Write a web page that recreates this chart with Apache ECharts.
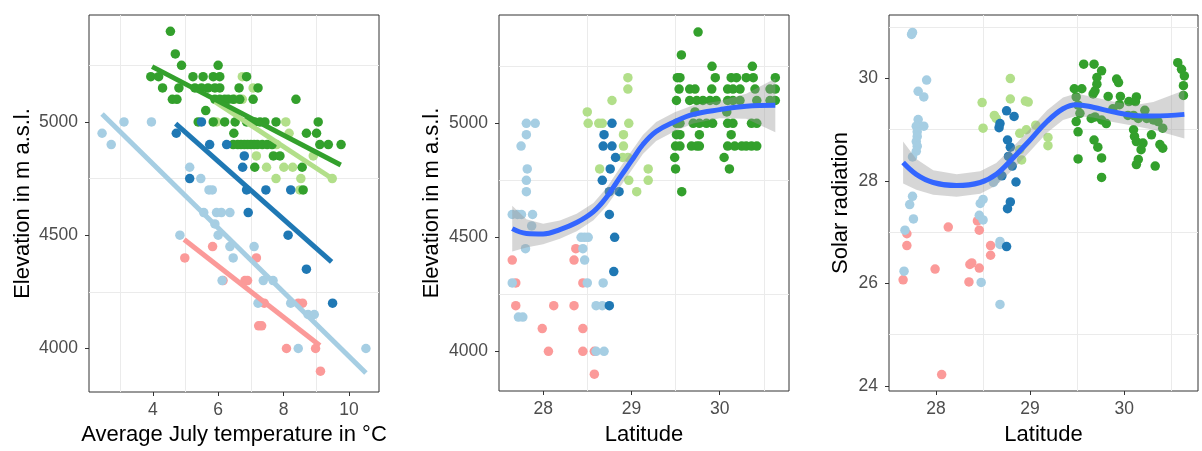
<!DOCTYPE html>
<html>
<head>
<meta charset="utf-8">
<script src="https://cdn.jsdelivr.net/npm/echarts@6/dist/echarts.min.js"></script>
<style>
  html, body { margin: 0; padding: 0; background: #fff; }
  #chart { width: 1202px; height: 451px; }
</style>
</head>
<body>
<div id="chart"></div>
<script>
// ---- panel 1: July temperature vs elevation ----
const tempPink = [[4.98,4400],[5.83,4450],[6.15,4300],[6.82,4300],[6.90,4300],[7.17,4400],[7.24,4100],[7.33,4100],[7.41,4200],[8.45,4200],[8.58,4200],[8.09,4000],[8.98,4000],[9.13,3900]];
const tempLightBlue = [[2.45,4950],[2.73,4900],[3.12,5000],[3.96,5000],[4.83,4500],[5.13,4800],[5.47,4750],[5.72,4700],[5.82,4700],[5.56,4600],[5.95,4600],[6.10,4600],[6.36,4600],[5.90,4550],[6.00,4500],[6.12,4300],[6.36,4450],[6.46,4400],[7.10,4450],[7.22,4200],[7.38,4300],[7.68,4300],[8.22,4200],[8.45,4000],[8.75,4150],[8.94,4150],[10.52,4000]];
const tempDarkBlue = [[4.72,4950],[5.49,5000],[5.13,4750],[5.74,4900],[6.26,4900],[6.80,4850],[6.75,4800],[6.87,4700],[7.46,4700],[8.22,4700],[6.92,4600],[8.14,4500],[8.70,4350],[9.50,4200]];
const tempLightGreen = [[5.95,5000],[6.74,5200],[7.07,5150],[6.51,5100],[6.74,5100],[8.07,5000],[8.17,4950],[7.79,4900],[7.17,4850],[8.91,4850],[7.48,4800],[8.01,4800],[8.28,4800],[7.77,4750],[8.53,4750],[9.49,4750],[8.50,4700]];
const tempGreen = [
  [4.54,5400],[4.69,5300],[4.88,5250],[6.00,5250],
  [3.94,5200],[4.18,5200],[5.23,5200],[5.54,5200],[5.85,5200],[6.05,5200],[6.87,5200],
  [4.30,5150],[4.80,5150],[5.29,5150],[5.49,5150],[5.69,5150],[5.90,5150],[6.05,5150],[6.64,5150],[7.22,5150],
  [4.60,5100],[4.74,5100],[5.90,5100],[6.05,5100],[6.20,5100],[6.31,5100],[6.46,5100],[6.66,5100],[7.07,5100],[8.38,5100],
  [5.62,5050],
  [5.39,5000],[5.85,5000],[6.20,5000],[6.52,5000],[6.87,5000],[7.00,5000],[7.12,5000],[7.28,5000],[7.43,5000],[7.77,5000],[9.06,5000],
  [6.48,4950],[8.70,4950],[9.01,4950],
  [6.46,4900],[6.60,4900],[6.70,4900],[6.80,4900],[6.90,4900],[7.00,4900],[7.10,4900],[7.20,4900],[7.35,4900],[7.50,4900],[7.65,4900],[9.11,4900],[9.37,4900],[9.76,4900],
  [7.69,4850],[7.89,4850],[7.12,4800],[8.57,4800],[8.60,4700]
];
// linear fits (start, end)
const fitPink = [[4.96,4481],[9.11,4013]];
const fitLightBlue = [[2.45,5035],[10.52,3892]];
const fitDarkBlue = [[4.70,4993],[9.47,4382]];
const fitLightGreen = [[5.90,5090],[9.52,4747]];
const fitGreen = [[3.98,5244],[9.75,4810]];

// ---- panel 2: latitude vs elevation ----
const latElevPink = [[27.65,4400],[27.69,4300],[27.69,4200],[27.99,4100],[28.06,4000],[28.12,4200],[28.37,4450],[28.35,4400],[28.35,4200],[28.45,4300],[28.45,4100],[28.45,4000],[28.58,4000],[28.58,3900]];
const latElevLightBlue = [[27.65,4600],[27.71,4600],[27.755,4600],[27.88,4600],[27.81,4950],[27.75,4900],[27.82,4800],[27.81,4750],[27.81,4700],[27.81,5000],[27.91,5000],[27.87,4550],[27.80,4450],[27.65,4300],[27.72,4150],[27.77,4150],[28.43,4500],[28.47,4500],[28.51,4500],[28.45,4450],[28.47,4400],[28.50,4300],[28.68,4300],[28.60,4200],[28.67,4200],[28.60,4000],[28.69,4000]];
const latElevDarkBlue = [[28.69,4950],[28.68,4900],[28.78,4900],[28.78,5000],[28.82,4850],[28.76,4800],[28.67,4750],[28.75,4700],[28.86,4700],[28.75,4600],[28.81,4500],[28.80,4350],[28.75,4200]];
const latElevLightGreen = [[28.50,5050],[28.51,5000],[28.63,5000],[28.67,5000],[28.78,5100],[28.96,5200],[28.96,5150],[28.97,5000],[28.91,4950],[28.91,4900],[28.90,4850],[28.96,4850],[28.64,4800],[29.19,4800],[29.19,4750],[28.97,4750],[29.06,4700]];
const latElevGreen = [
  [29.755,5400],[29.566,5300],[29.913,5250],[30.37,5250],
  [29.52,5200],[29.55,5200],[29.95,5200],[30.13,5200],[30.19,5200],[30.30,5200],[30.38,5200],[30.63,5200],
  [29.54,5150],[29.66,5150],[29.72,5150],[29.91,5150],[30.09,5150],[30.15,5150],[30.23,5150],[30.40,5150],[30.57,5150],[30.63,5150],
  [29.51,5100],[29.66,5100],[29.74,5100],[29.81,5100],[29.89,5100],[29.96,5100],[30.09,5100],[30.15,5100],[30.23,5100],[30.42,5100],[30.57,5100],[30.63,5100],
  [29.72,5050],[30.08,5050],
  [29.51,5000],[29.55,5000],[29.70,5000],[29.77,5000],[29.85,5000],[29.92,5000],[30.09,5000],[30.15,5000],[30.36,5000],[30.42,5000],
  [29.51,4950],[29.55,4950],[29.77,4950],[30.13,4950],
  [29.50,4900],[29.55,4900],[29.68,4900],[29.74,4900],[29.77,4900],[30.09,4900],[30.17,4900],[30.25,4900],[30.30,4900],[30.36,4900],[30.42,4900],
  [29.49,4850],[30.05,4850],[29.50,4800],[30.11,4800],[29.57,4700]
];
// loess curve and its band
const smoothLatElev = [27.65, 27.81, 28.0, 28.19, 28.38, 28.57, 28.72, 28.87, 29.0, 29.13, 29.28, 29.49, 29.70, 30.0, 30.30, 30.63];
const fitElev = [4538, 4517, 4515, 4534, 4565, 4613, 4677, 4763, 4835, 4907, 4964, 5007, 5039, 5060, 5075, 5079];
const upperElev = [4638, 4579, 4560, 4574, 4603, 4651, 4717, 4805, 4877, 4949, 5006, 5049, 5079, 5098, 5130, 5197];
const lowerElev = [4438, 4455, 4470, 4494, 4527, 4575, 4637, 4721, 4793, 4865, 4922, 4965, 4999, 5022, 5020, 4961];

// ---- panel 3: latitude vs solar radiation ----
const latSolarPink = [[27.65,26.07],[27.69,26.97],[27.69,26.74],[27.99,26.28],[28.13,27.10],[28.06,24.22],[28.36,26.37],[28.38,26.40],[28.35,26.03],[28.46,26.30],[28.44,27.22],[28.46,27.04],[28.58,26.74],[28.58,26.55]];
const latSolarLightBlue = [[27.75,30.90],[27.74,30.86],[27.90,29.97],[27.81,29.75],[27.87,29.64],[27.81,29.20],[27.79,29.07],[27.87,29.07],[27.80,28.96],[27.80,28.87],[27.79,28.77],[27.80,28.68],[27.79,28.58],[27.75,28.47],[27.75,27.70],[27.72,27.54],[27.76,27.26],[27.67,27.04],[27.66,26.24],[28.61,27.97],[28.63,28.03],[28.47,27.56],[28.50,27.64],[28.46,27.33],[28.50,27.24],[28.68,26.82],[28.68,26.76],[28.48,26.02],[28.68,25.59]];
const latSolarDarkBlue = [[28.75,29.37],[28.83,29.26],[28.68,29.12],[28.67,29.04],[28.76,28.80],[28.79,28.66],[28.77,28.48],[28.81,28.29],[28.85,27.98],[28.79,27.59],[28.76,27.46],[28.75,26.72],[28.70,28.10]];
const latSolarLightGreen = [[28.79,30.00],[28.79,29.60],[28.49,29.53],[28.95,29.56],[28.98,29.54],[28.62,29.28],[28.64,29.22],[28.50,29.03],[28.89,28.93],[28.96,29.00],[29.06,29.09],[29.19,28.85],[29.19,28.69],[28.91,28.41],[28.89,28.61]];
const latSolarGreen = [
  [29.57,30.28],[29.68,30.28],[29.76,30.15],[29.71,30.02],[29.71,29.89],[29.69,29.76],[29.67,29.70],[29.55,29.80],[29.47,29.80],
  [29.92,29.99],[29.94,29.92],[29.83,29.65],[29.96,29.65],[30.05,29.55],[30.13,29.64],[30.12,29.55],[29.95,29.49],
  [30.57,30.31],[30.61,30.18],[30.64,30.05],[30.63,29.86],[30.63,29.67],
  [29.49,29.64],[29.51,29.48],[29.53,29.32],[29.49,29.16],[29.51,28.96],[29.51,28.43],
  [29.69,29.25],[29.76,29.19],[29.81,29.12],[29.68,28.80],[29.72,28.66],[29.76,28.45],[29.76,28.07],
  [30.10,29.00],[30.11,28.87],[30.13,28.77],[30.20,28.74],[30.18,28.61],[30.15,28.42],[30.13,28.32],[30.33,28.29],
  [30.29,28.90],[30.38,28.71],[30.41,28.64],[30.22,29.38],[30.24,29.22],[30.31,29.19],[30.36,29.16],[30.41,29.03],
  [30.10,29.28],[30.15,29.22],[29.88,29.41],[30.04,29.28],[29.65,29.22]
];
const smoothLatSolar = [27.65, 27.79, 27.97, 28.22, 28.47, 28.64, 28.82, 29.0, 29.18, 29.35, 29.49, 29.67, 29.88, 30.10, 30.31, 30.64];
const fitSolar = [28.36, 28.13, 27.97, 27.91, 27.97, 28.13, 28.45, 28.80, 29.16, 29.41, 29.49, 29.44, 29.35, 29.28, 29.27, 29.30];
const upperSolar = [28.77, 28.43, 28.21, 28.13, 28.19, 28.35, 28.67, 29.02, 29.38, 29.63, 29.71, 29.64, 29.55, 29.48, 29.54, 29.77];
const lowerSolar = [27.95, 27.83, 27.73, 27.69, 27.75, 27.91, 28.23, 28.58, 28.94, 29.19, 29.27, 29.24, 29.15, 29.08, 29.00, 28.83];

// ---- axis breaks ----
const tempTicks = [4, 6, 8, 10];
const tempMinor = [3, 5, 7, 9];
const elevTicks = [4000, 4500, 5000];
const elevMinor = [4250, 4750, 5250];
const latTicks = [28, 29, 30];
const latMinor = [28.5, 29.5, 30.5];
const solarTicks = [24, 26, 28, 30];
const solarMinor = [25, 27, 29, 31];

const colors = {
    pink: '#FB9A99',
    lightBlue: '#A6CEE3',
    darkBlue: '#1F78B4',
    lightGreen: '#B2DF8A',
    green: '#33A02C'
};
const font = 'Liberation Sans, Arial, sans-serif';

function valueAxis(idx, min, max, ticks, name, nameGap, labelMargin) {
    return {
        type: 'value',
        gridIndex: idx,
        min: min,
        max: max,
        axisLine: { show: false },
        axisTick: { show: true, length: 4, customValues: ticks, lineStyle: { color: '#333333', width: 1 } },
        axisLabel: {
            customValues: ticks, color: '#4D4D4D', fontSize: 17.5, fontFamily: font, margin: labelMargin,
            formatter: v => String(v)
        },
        splitLine: { show: false },
        name: name,
        nameLocation: 'middle',
        nameGap: nameGap,
        nameTextStyle: { color: '#000', fontSize: 22, fontFamily: font }
    };
}

function gridLines(idx, xs, ys) {
    return {
        type: 'scatter', xAxisIndex: idx, yAxisIndex: idx, data: [], z: 1, silent: true,
        markLine: {
            silent: true, z: 1, animation: false,
            symbol: ['none', 'none'],
            label: { show: false },
            lineStyle: { color: '#EBEBEB', width: 1, type: 'solid' },
            data: xs.map(v => ({ xAxis: v })).concat(ys.map(v => ({ yAxis: v })))
        }
    };
}

function points(idx, data, color) {
    return {
        type: 'scatter', xAxisIndex: idx, yAxisIndex: idx, data: data,
        symbol: 'circle', symbolSize: 9.5, z: 2, silent: true,
        itemStyle: { color: color, opacity: 1 }
    };
}

function fitLine(idx, data, color) {
    return {
        type: 'line', xAxisIndex: idx, yAxisIndex: idx, data: data,
        showSymbol: false, symbol: 'none', z: 4, silent: true,
        lineStyle: { color: color, width: 5 }
    };
}

// confidence band as one polygon, corners placed through the axes
function ribbon(idx, xs, lower, upper) {
    return {
        type: 'custom', xAxisIndex: idx, yAxisIndex: idx, z: 3, silent: true,
        data: [[xs[0], lower[0]]],
        renderItem: (params, api) => {
            const top = xs.map((x, i) => api.coord([x, upper[i]]));
            const bottom = xs.map((x, i) => api.coord([x, lower[i]])).reverse();
            return {
                type: 'polygon',
                shape: { points: top.concat(bottom) },
                style: { fill: 'rgba(153,153,153,0.4)' }
            };
        }
    };
}

function smoothLine(idx, xs, ys) {
    return {
        type: 'line', xAxisIndex: idx, yAxisIndex: idx,
        data: xs.map((x, i) => [x, ys[i]]),
        symbol: 'none', smooth: 0.4, z: 4, silent: true,
        lineStyle: { color: '#3366FF', width: 5 }
    };
}

const chart = echarts.init(document.getElementById('chart'));
const gridStyle = { show: true, borderColor: '#333333', borderWidth: 1, backgroundColor: 'transparent' };

chart.setOption({
    animation: false,
    textStyle: { fontFamily: font },
    grid: [
        { left: 89, top: 15, width: 290, height: 378, ...gridStyle },
        { left: 499, top: 15, width: 290, height: 382, ...gridStyle },
        { left: 889, top: 15, width: 309, height: 382, ...gridStyle }
    ],
    xAxis: [
        valueAxis(0, 2.05, 10.92, tempTicks, 'Average July temperature in °C', 32, 9),
        valueAxis(1, 27.5, 30.785, latTicks, 'Latitude', 33, 9),
        valueAxis(2, 27.5, 30.785, latTicks, 'Latitude', 33, 9)
    ],
    yAxis: [
        valueAxis(0, 3808, 5472, elevTicks, 'Elevation in m a.s.l.', 55, 11),
        valueAxis(1, 3826, 5475, elevTicks, 'Elevation in m a.s.l.', 56, 11),
        valueAxis(2, 23.9, 31.24, solarTicks, 'Solar radiation', 37, 11)
    ],
    series: [
        gridLines(0, tempMinor, elevMinor),
        points(0, tempPink, colors.pink),
        points(0, tempLightBlue, colors.lightBlue),
        points(0, tempLightGreen, colors.lightGreen),
        points(0, tempGreen, colors.green),
        points(0, tempDarkBlue, colors.darkBlue),
        fitLine(0, fitLightGreen, colors.lightGreen),
        fitLine(0, fitGreen, colors.green),
        fitLine(0, fitDarkBlue, colors.darkBlue),
        fitLine(0, fitPink, colors.pink),
        fitLine(0, fitLightBlue, colors.lightBlue),

        gridLines(1, latMinor, elevMinor),
        points(1, latElevPink, colors.pink),
        points(1, latElevLightBlue, colors.lightBlue),
        points(1, latElevLightGreen, colors.lightGreen),
        points(1, latElevGreen, colors.green),
        points(1, latElevDarkBlue, colors.darkBlue),
        ribbon(1, smoothLatElev, lowerElev, upperElev),
        smoothLine(1, smoothLatElev, fitElev),

        gridLines(2, latMinor, solarMinor),
        points(2, latSolarPink, colors.pink),
        points(2, latSolarLightBlue, colors.lightBlue),
        points(2, latSolarLightGreen, colors.lightGreen),
        points(2, latSolarGreen, colors.green),
        points(2, latSolarDarkBlue, colors.darkBlue),
        ribbon(2, smoothLatSolar, lowerSolar, upperSolar),
        smoothLine(2, smoothLatSolar, fitSolar)
    ]
});
</script>
</body>
</html>
